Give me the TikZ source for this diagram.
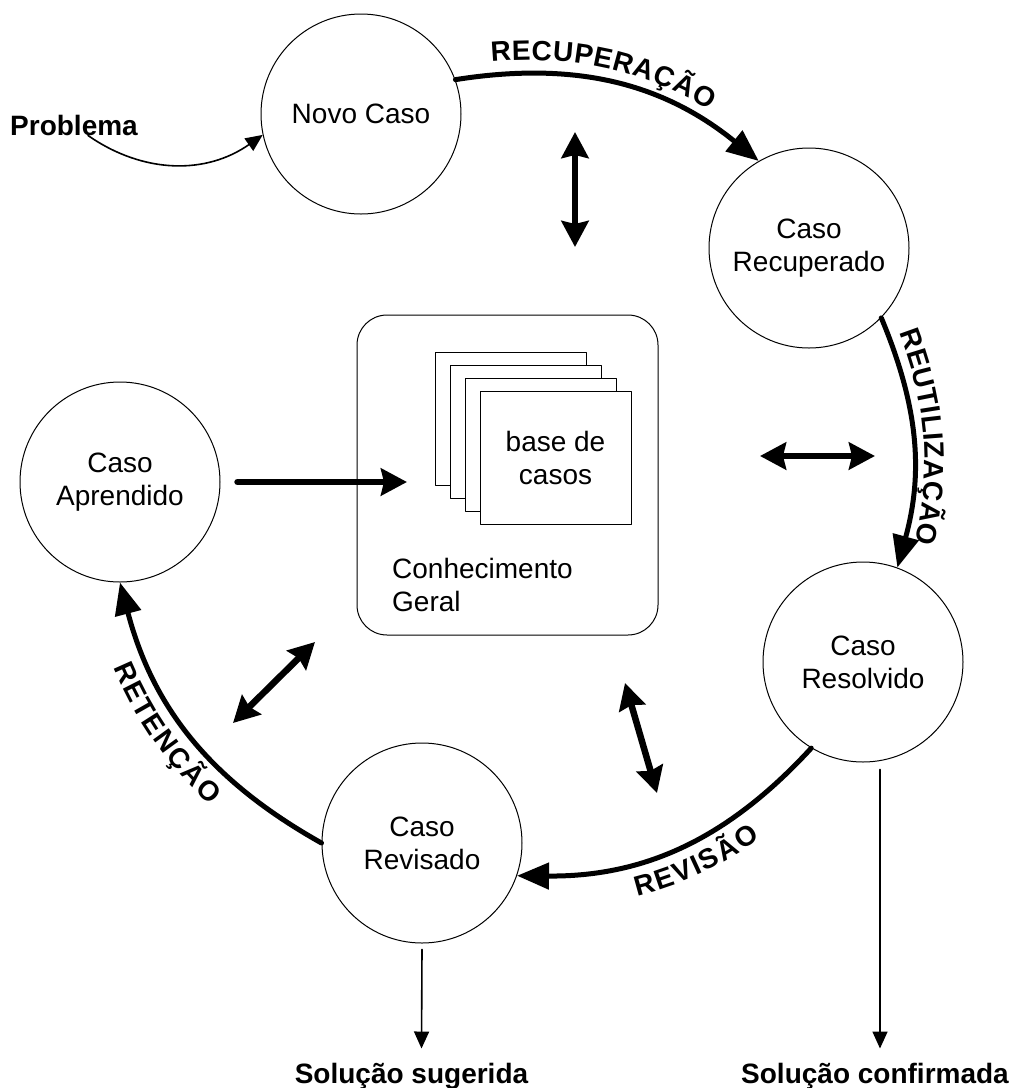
\documentclass[tikz,border=0pt]{standalone}
\usepackage{fontspec}
\setmainfont{Liberation Sans}
\usetikzlibrary{arrows.meta,decorations.text}
\newcommand\rotfont{\bfseries\fontsize{28}{33}\selectfont}

\begin{document}
\begin{tikzpicture}[
		x=1pt,y=1pt,
		line cap=round,
		line join=round,
		font=\fontsize{28}{33}\selectfont,
		caso/.style={circle,draw,line width=1pt,minimum size=200pt,inner sep=0pt,align=center},
		folha/.style={draw,fill=white,line width=1pt,minimum width=151pt,minimum height=133pt,inner sep=0pt,align=center},
		rotulo/.style={font=\rotfont,inner sep=0pt},
		ciclo/.style={line width=5pt,-{Triangle[length=32pt,width=26pt]}},
		saida/.style={line width=1.6pt,-{Triangle[length=17pt,width=15pt]}},
		troca/.style={line width=6.5pt,{Stealth[length=26pt,width=27pt,inset=3pt]}-{Stealth[length=26pt,width=27pt,inset=3pt]}}
		]
		\useasboundingbox (0,0) rectangle (1013,-1088);
		\node[caso] (novo) at (361,-114) {Novo Caso};
		\node[caso] (recup) at (809,-248) {Caso\\Recuperado};
		\node[caso] (resol) at (863,-662) {Caso\\Resolvido};
		\node[caso] (revis) at (422,-843) {Caso\\Revisado};
		\node[caso] (aprend) at (120,-482) {Caso\\Aprendido};
		\node[draw,line width=1pt,rounded corners=30pt,minimum width=301pt,minimum height=320pt] (geral) at (507.5,-475) {};
		\foreach \i in {0,1,2}
			\node[folha] (pg\i) at (510.5+15*\i,-418.5-13*\i) {};
		\node[folha] (pg3) at (555.5,-457.5) {base de\\casos};
		\node[anchor=north west,inner sep=0pt,align=left] (conhec) at (392,-558) {Conhecimento\\Geral};
		\node[rotulo] (prob) at (74,-125) {Problema};
		\node[rotulo,anchor=base] (sug) at (411.5,-1083) {Solução sugerida};
		\node[rotulo,anchor=base] (conf) at (875,-1083) {Solução confirmada};
		\draw[ciclo] (novo.20) to[bend left=24] (recup.120);
		\draw[ciclo] (recup.-44) to[bend left=19] (resol.70);
		\draw[ciclo] (resol.-121) to[bend left=24] (revis.-19);
		\draw[ciclo] (revis.180) to[bend left=23] (aprend.-90);
		\path[decorate,decoration={text along path,text={|\rotfont|RECUPERAÇÃO},raise=13pt,text align={left indent=37pt}}] (novo.20) to[bend left=24] (recup.120);
		\path[decorate,decoration={text along path,text={|\rotfont|REUTILIZAÇÃO},raise=11pt,text align={left indent=20pt}}] (recup.-44) to[bend left=19] (resol.70);
		\path[decorate,decoration={text along path,text={|\rotfont|REVISÃO},raise=-33pt,text align={left indent=112pt}}] (revis.-19) to[bend right=24] (resol.-121);
		\path[decorate,decoration={text along path,text={|\rotfont|RETENÇÃO},raise=-33pt,text align={left indent=75pt}}] (aprend.-90) to[bend right=23] (revis.180);
		\coordinate (t1a) at (575,-132);
		\coordinate (t1b) at (575,-247);
		\coordinate (t2a) at (760,-456);
		\coordinate (t2b) at (875,-456);
		\coordinate (t3a) at (625,-683);
		\coordinate (t3b) at (657,-793);
		\coordinate (t4a) at (315,-642);
		\coordinate (t4b) at (233,-723);
		\coordinate (entra) at (407,-482);
		\begin{scope}[troca]
		\draw (t1a) -- (t1b);
		\draw (t2a) -- (t2b);
		\draw (t3a) -- (t3b);
		\draw (t4a) -- (t4b);
		\end{scope}
		\draw[line width=6.5pt,-{Stealth[length=26pt,width=27pt,inset=3pt]}] ([xshift=17pt]aprend.east) -- (entra);
		\draw[saida] ([xshift=14pt]prob.south) to[bend right=35] (novo.192);
		\draw[saida] ([yshift=-6pt]revis.south) -- ([xshift=10pt,yshift=14pt]sug.north);
		\draw[saida] ([xshift=17pt,yshift=-7pt]resol.south) -- ([xshift=5pt,yshift=14pt]conf.north);
		\end{tikzpicture}
\end{document}
